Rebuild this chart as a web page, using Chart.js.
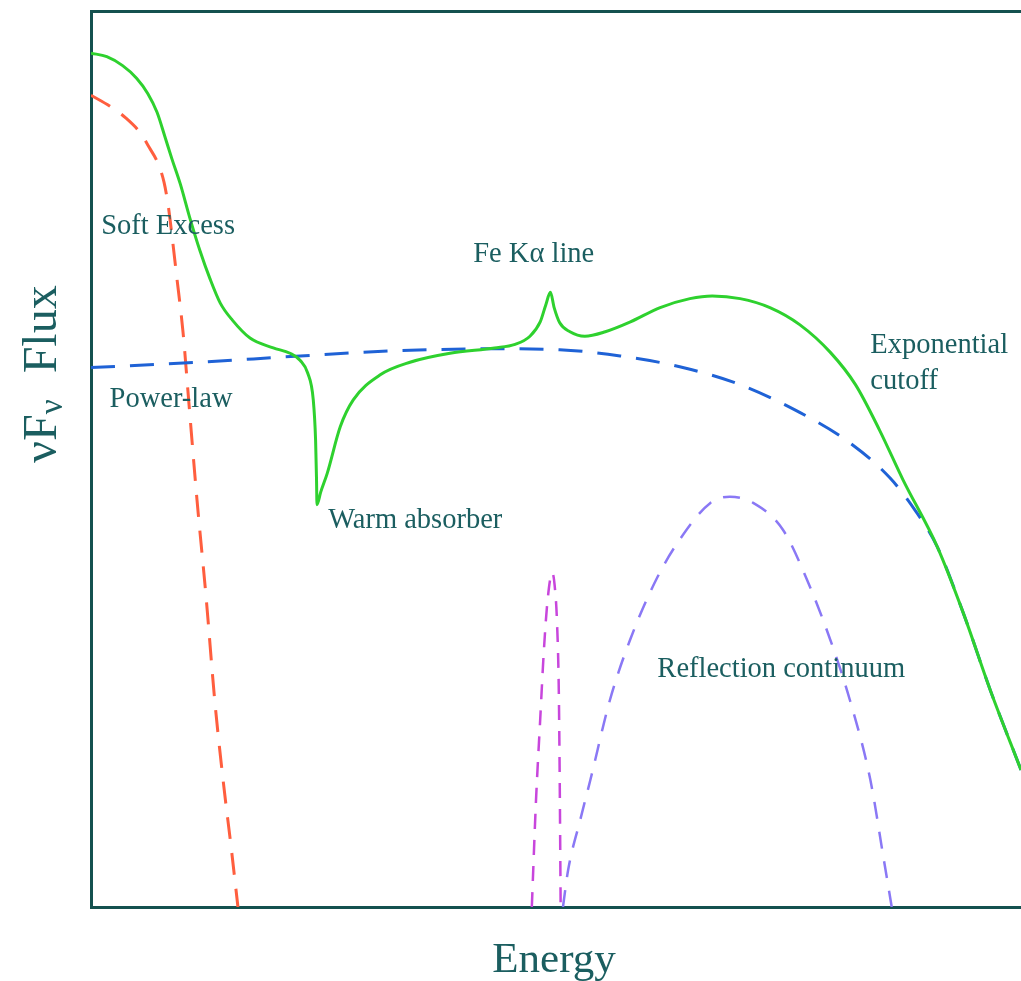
<!DOCTYPE html>
<html>
<head>
<meta charset="utf-8">
<script src="https://cdn.jsdelivr.net/npm/chart.js@4.4.0/dist/chart.umd.min.js"></script>
<style>
  html, body { margin: 0; padding: 0; background: #ffffff; overflow: hidden; }
  canvas { display: block; }
</style>
</head>
<body>
<canvas id="spectrum" width="1021" height="981"></canvas>
<script>
// Schematic AGN X-ray spectrum: energy (arbitrary units) vs. nuFnu flux (arbitrary units)

// Total observed spectrum
const totalEnergy = [0, 1.7, 3.4, 4.9, 6.1, 7.1, 8.0, 8.7, 9.6, 10.6, 11.7, 12.8, 13.9, 15.2, 17.1, 19.6, 21.4, 22.5, 23.3, 23.9, 24.15, 24.25, 24.3, 24.7, 25.4, 26.8, 28.2, 31.1, 34.3, 38.6, 43.4, 45.6, 47.2, 48.3, 48.9, 49.4, 49.8, 50.4, 51.5, 53.1, 55.3, 58.0, 61.2, 64.4, 66.8, 69.8, 73.0, 76.2, 79.5, 82.2, 84.8, 87.3, 91.0, 93.8, 96.7, 100];
const totalFlux   = [95.3, 94.9, 93.9, 92.5, 90.8, 88.7, 85.8, 83.5, 80.7, 77.0, 73.3, 70.1, 67.4, 65.5, 63.5, 62.4, 61.8, 61.0, 59.6, 56.6, 52.1, 47.7, 44.9, 46.3, 48.4, 53.6, 56.6, 59.4, 60.8, 61.8, 62.4, 62.8, 63.7, 65.3, 67.2, 68.6, 66.9, 65.2, 64.2, 63.7, 64.2, 65.3, 66.9, 67.9, 68.2, 67.9, 66.9, 65.0, 61.9, 58.3, 53.2, 47.7, 40.2, 32.8, 24.2, 15.3];

// Primary power-law with exponential cutoff
const powerEnergy = [0, 11.7, 22.5, 33.2, 44.0, 50.4, 56.9, 63.3, 69.8, 76.2, 81.6, 85.9, 88.6, 91.0, 93.8, 96.7, 100];
const powerFlux   = [60.2, 60.8, 61.5, 62.1, 62.3, 62.2, 61.5, 60.3, 58.3, 55.2, 51.8, 47.9, 44.3, 40.2, 32.8, 24.2, 15.3];

// Soft excess component
const softEnergy = [0, 2.0, 3.7, 5.3, 6.3, 7.2, 7.85, 8.3, 8.7, 9.2, 9.9, 10.5, 11.4, 12.4, 13.3, 14.2, 15.1, 15.8];
const softFlux   = [90.6, 89.4, 88.1, 86.4, 84.7, 83.0, 80.9, 78.3, 75.0, 70.5, 64.1, 56.6, 45.4, 34.3, 23.1, 14.2, 6.4, 0];

// Fe K-alpha emission line
const ironEnergy = [47.4, 47.85, 48.3, 48.7, 49.1, 49.6, 49.9, 50.1, 50.3, 50.4, 50.5];
const ironFlux   = [0, 11.9, 20.9, 28.7, 34.3, 37.3, 35.4, 32.0, 24.2, 14.2, 0];

// Compton reflection hump
const reflEnergy = [50.75, 51.3, 52.6, 53.7, 55.8, 57.96, 60.9, 63.3, 66.6, 68.7, 71.2, 74.4, 77.0, 79.5, 81.6, 83.8, 85.2, 86.1];
const reflFlux   = [0, 4.1, 9.7, 14.2, 23.1, 29.8, 36.8, 41.0, 45.1, 45.8, 45.1, 42.1, 36.5, 29.8, 23.1, 14.2, 5.6, 0];

// Component labels: [text, energy, flux]
const componentLabels = [
  ['Soft Excess', 1.1, 76.0],
  ['Power-law', 2.0, 56.6],
  ['Warm absorber', 25.5, 43.1],
  ['Fe K\u03B1 line', 41.1, 72.8],
  ['Exponential', 83.8, 62.7],
  ['cutoff', 83.8, 58.6],
  ['Reflection continuum', 60.9, 26.5]
];

const INK = '#1b5e60';
const FRAME = '#14514f';
const SERIF = '"Liberation Serif", "DejaVu Serif", serif';

function toPoints(xs, ys) {
  return xs.map((x, i) => ({ x: x, y: ys[i] }));
}

function curve(label, xs, ys, color, width, dash) {
  return {
    label: label,
    data: toPoints(xs, ys),
    showLine: true,
    borderColor: color,
    backgroundColor: color,
    borderWidth: width,
    borderDash: dash,
    pointRadius: 0,
    pointHoverRadius: 0,
    fill: false,
    cubicInterpolationMode: 'monotone'
  };
}

// Annotation text and axis titles
const textPlugin = {
  id: 'spectrumText',
  afterDraw(chart) {
    const ctx = chart.ctx;
    const xs = chart.scales.x;
    const ys = chart.scales.y;
    ctx.save();
    ctx.fillStyle = INK;
    ctx.font = '28.5px ' + SERIF;
    ctx.textAlign = 'left';
    ctx.textBaseline = 'middle';
    componentLabels.forEach(([t, ex, fy]) => {
      ctx.fillText(t, xs.getPixelForValue(ex), ys.getPixelForValue(fy));
    });

    // x-axis title
    const area = chart.chartArea;
    ctx.font = '43px ' + SERIF;
    ctx.textAlign = 'center';
    ctx.textBaseline = 'middle';
    ctx.fillText('Energy', (area.left + area.right) / 2 - 2, area.bottom + 54);

    // y-axis title with subscript
    ctx.translate(43, 374);
    ctx.rotate(-Math.PI / 2);
    const big = '48px ' + SERIF;
    const small = '33px ' + SERIF;
    const gap = 26;
    const parts = [['\u03BDF', big, 0, 0], ['\u03BD', small, 10, gap], ['Flux', big, 0, 0]];
    let total = 0;
    parts.forEach(([t, f, dy, after]) => { ctx.font = f; total += ctx.measureText(t).width + after; });
    let cx = -total / 2;
    ctx.textAlign = 'left';
    parts.forEach(([t, f, dy, after]) => {
      ctx.font = f;
      ctx.fillText(t, cx, dy);
      cx += ctx.measureText(t).width + after;
    });
    ctx.restore();
  }
};

const frameAxis = (pos, isX) => ({
  type: 'linear',
  position: pos,
  min: 0,
  max: 100,
  display: true,
  grid: { display: false, drawTicks: false },
  ticks: { display: false },
  border: { display: true, color: FRAME, width: 3 },
  afterFit(scale) { if (isX) { scale.height = 0; } else { scale.width = 0; } }
});

new Chart(document.getElementById('spectrum'), {
  type: 'scatter',
  data: {
    // first dataset is painted on top
    datasets: [
      curve('Total', totalEnergy, totalFlux, '#2ed12e', 3, []),
      curve('Power-law', powerEnergy, powerFlux, '#1f62d6', 3, [24, 15]),
      curve('Soft excess', softEnergy, softFlux, '#ff5e3e', 3, [22, 14]),
      curve('Fe K\u03B1 line', ironEnergy, ironFlux, '#c846dc', 2.5, [15, 11]),
      curve('Reflection continuum', reflEnergy, reflFlux, '#8a78f5', 2.5, [17, 13])
    ]
  },
  options: {
    responsive: false,
    devicePixelRatio: 1,
    animation: false,
    events: [],
    layout: { padding: { left: 91, top: 11, right: 0, bottom: 74 } },
    plugins: {
      legend: { display: false },
      tooltip: { enabled: false },
      title: { display: false }
    },
    scales: {
      x: frameAxis('bottom', true),
      xTop: frameAxis('top', true),
      y: frameAxis('left', false)
    }
  },
  plugins: [textPlugin]
});
</script>
</body>
</html>
